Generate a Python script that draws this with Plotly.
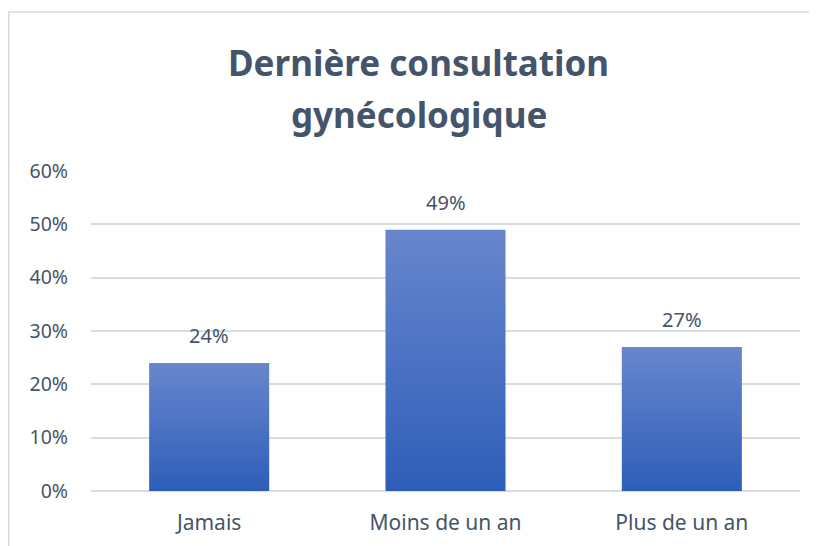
import plotly.graph_objects as go

# Data
categories = ['Jamais', 'Moins de un an', 'Plus de un an']
values = [0.24, 0.49, 0.27]
labels = ['24%', '49%', '27%']
title_lines = ['Dernière consultation', 'gynécologique']

bar_half = 0.254
font_name = 'Noto Sans'
text_color = '#44546A'

fig = go.Figure()

# Bars drawn as filled polygons so each gets a vertical gradient
for i, v in enumerate(values):
    fig.add_trace(go.Scatter(
        x=[i - bar_half, i + bar_half, i + bar_half, i - bar_half, i - bar_half],
        y=[0, 0, v, v, 0],
        mode='lines',
        line=dict(width=0),
        fill='toself',
        fillgradient=dict(type='vertical',
                          colorscale=[[0, '#2E5EB9'], [1, '#6886CD']]),
        hoverinfo='skip',
        showlegend=False,
    ))

# Data labels
for i, (v, lab) in enumerate(zip(values, labels)):
    fig.add_annotation(x=i, y=v, text=lab, showarrow=False,
                       yanchor='bottom', yshift=12,
                       font=dict(family=font_name, size=20, color=text_color))

# Title, two lines with wider spacing than plotly's default
for line, ypos in zip(title_lines, [1.34, 1.178]):
    fig.add_annotation(x=0.4626, y=ypos, xref='paper', yref='paper', text=line,
                       showarrow=False, xanchor='center', yanchor='middle',
                       font=dict(family=font_name, size=35, color=text_color,
                                 weight='bold'))

fig.update_xaxes(
    range=[-0.5, 2.5],
    tickvals=list(range(len(categories))),
    ticktext=categories,
    showgrid=False, zeroline=False, showline=False,
    ticks='', ticklabelstandoff=17,
    tickfont=dict(family=font_name, size=21, color=text_color),
)
fig.update_yaxes(
    range=[0, 0.6], dtick=0.1, tickformat='.0%',
    showgrid=True, gridcolor='#D9DDE3', gridwidth=1.5,
    zeroline=True, zerolinecolor='#D9DDE3', zerolinewidth=1.5,
    showline=False, ticks='', ticklabelstandoff=22,
    tickfont=dict(family=font_name, size=19.5, color=text_color),
)

# Chart frame
fig.add_shape(type='rect', xref='paper', yref='paper',
              x0=-0.116, x1=1.2, y0=-0.4, y1=1.497,
              line=dict(color='#D9D9D9', width=1.5), layer='below')

fig.update_layout(
    width=817, height=546,
    margin=dict(l=83, r=25, t=163, b=63),
    paper_bgcolor='white', plot_bgcolor='white',
    showlegend=False,
)

fig.write_html('out.html')
